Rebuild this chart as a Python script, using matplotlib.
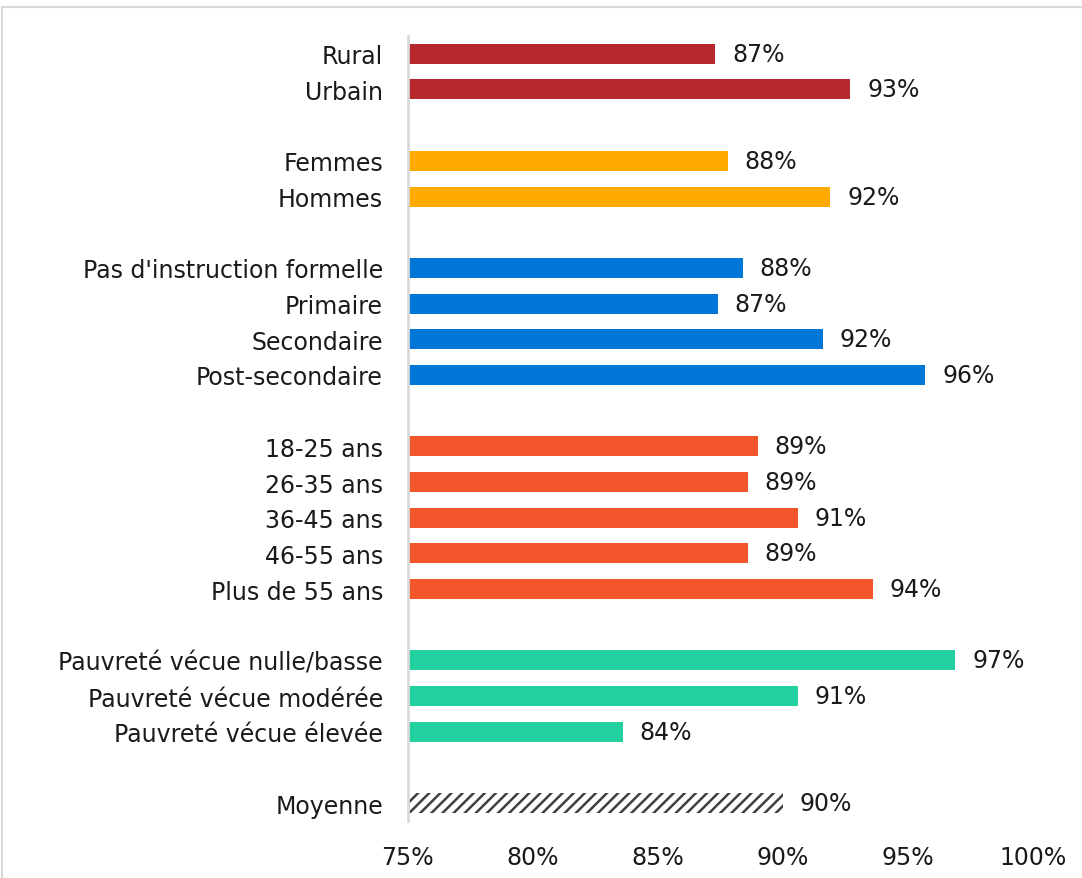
import numpy as np
import matplotlib.pyplot as plt

# Données
categories = ['Rural', 'Urbain',
              'Femmes', 'Hommes',
              "Pas d'instruction formelle", 'Primaire', 'Secondaire', 'Post-secondaire',
              '18-25 ans', '26-35 ans', '36-45 ans', '46-55 ans', 'Plus de 55 ans',
              'Pauvreté vécue nulle/basse', 'Pauvreté vécue modérée', 'Pauvreté vécue élevée',
              'Moyenne']
values = [87.3, 92.7,
          87.8, 91.9,
          88.4, 87.4, 91.6, 95.7,
          89.0, 88.6, 90.6, 88.6, 93.6,
          96.9, 90.6, 83.6,
          90.0]
groups = [0, 0, 1, 1, 2, 2, 2, 2, 3, 3, 3, 3, 3, 4, 4, 4, 5]
group_colors = ['#B5292F', '#FFAA00', '#0077D6', '#F2562A', '#23D1A0', 'white']
xticks = [75, 80, 85, 90, 95, 100]

plt.rcParams['font.family'] = ['DejaVu Sans']
plt.rcParams['hatch.linewidth'] = 1.8
plt.rcParams['hatch.color'] = '#404040'
fs = 17

fig = plt.figure(figsize=(10.82, 8.79), dpi=100)
ax = fig.add_axes([0.377, 0.0648, 0.5777, 0.8932])

# position des lignes : une ligne vide entre les groupes
pos = []
row = 0
for i, g in enumerate(groups):
    if i > 0 and g != groups[i - 1]:
        row += 1
    pos.append(row)
    row += 1
pos = np.array(pos)

for p, v, g in zip(pos, values, groups):
    if g == 5:
        ax.barh(p, v - 75, left=75, height=0.56, color='white',
                edgecolor='#404040', hatch='///', linewidth=0)
    else:
        ax.barh(p, v - 75, left=75, height=0.56, color=group_colors[g])
    ax.annotate(f'{v:.0f}%', (v, p), xytext=(12, 0), textcoords='offset points',
                va='center', ha='left', fontsize=fs, color='#1a1a1a')

ax.set_xlim(75, 100)
ax.set_ylim(pos[-1] + 0.5, -0.5)
ax.set_yticks(pos)
ax.set_yticklabels(categories, fontsize=fs, color='#1a1a1a')
ax.set_xticks(xticks)
ax.set_xticklabels([f'{t}%' for t in xticks], fontsize=fs, color='#1a1a1a')
ax.tick_params(axis='y', length=0, pad=18)
ax.tick_params(axis='x', length=0, pad=17)
for s in ['top', 'right', 'bottom']:
    ax.spines[s].set_visible(False)
ax.spines['left'].set_color('#D9D9D9')
ax.spines['left'].set_linewidth(2)

# cadre gris autour du graphique
fig.add_artist(plt.Line2D([0.002, 1.0], [0.991, 0.991], color='#D9D9D9', lw=1.5))
fig.add_artist(plt.Line2D([0.002, 0.002], [0.0, 0.991], color='#D9D9D9', lw=1.5))

fig.savefig('out.png', dpi=100)
